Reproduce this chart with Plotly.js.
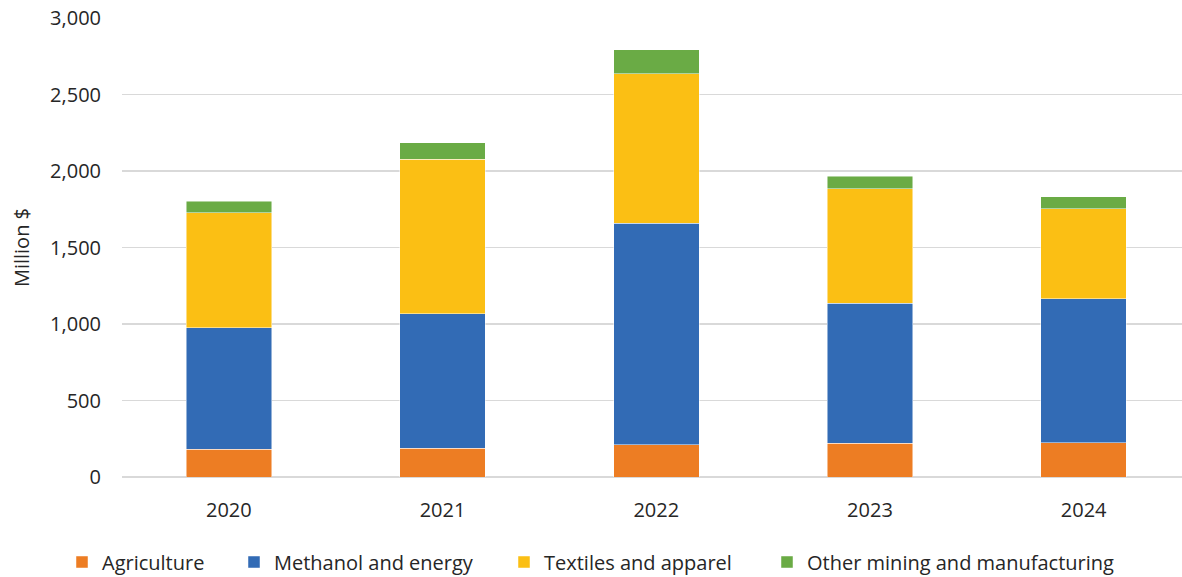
<!DOCTYPE html>
<html>
<head>
<meta charset="utf-8">
<script src="https://cdn.plot.ly/plotly-3.0.1.min.js"></script>
<style>html,body{margin:0;padding:0;background:#fff;}#chart{width:1182px;height:577px;}</style>
</head>
<body>
<div id="chart"></div>
<script>
const years = ["2020", "2021", "2022", "2023", "2024"];
const agriculture = [181, 187, 211, 220, 224];
const methanolEnergy = [794, 879, 1447, 916, 940];
const textilesApparel = [751, 1010, 977, 748, 590];
const otherMining = [76, 109, 159, 83, 78];
const yTicks = [0, 500, 1000, 1500, 2000, 2500, 3000];
const yTickLabels = ["0", "500", "1,000", "1,500", "2,000", "2,500", "3,000"];

const names = ["Agriculture", "Methanol and energy", "Textiles and apparel", "Other mining and manufacturing"];
const colors = ["#ED7D23", "#326BB5", "#FBBF14", "#6AAB45"];
const series = [agriculture, methanolEnergy, textilesApparel, otherMining];
const legendIds = ["legend", "legend2", "legend3", "legend4"];
const legendX = [62, 234, 504, 767];

const traces = series.map((vals, i) => ({
  type: "bar",
  name: names[i],
  x: years,
  y: vals,
  width: 0.4,
  legend: legendIds[i],
  marker: {color: colors[i], line: {color: "rgba(255,255,255,0.6)", width: 0.8}},
  hoverinfo: "x+y+name"
}));

const font = "'Open Sans', 'Noto Sans', sans-serif";
const fs = 20;
const layout = {
  width: 1182, height: 577,
  barmode: "stack",
  margin: {l: 122, r: 0, t: 18, b: 100, autoexpand: false},
  paper_bgcolor: "#fff", plot_bgcolor: "#fff",
  font: {family: font, size: fs, color: "#262626"},
  showlegend: true,
  xaxis: {
    type: "category",
    range: [-0.5, 4.46],
    showgrid: false, zeroline: false,
    showline: false, ticks: "",
    ticklabelstandoff: 19,
    tickfont: {size: fs, color: "#262626"}
  },
  yaxis: {
    range: [0, 3000],
    tickvals: yTicks, ticktext: yTickLabels,
    showgrid: true, gridcolor: "#D9D9D9", gridwidth: 1.5,
    zeroline: true, zerolinecolor: "#D9D9D9", zerolinewidth: 1.5,
    showline: false, ticks: "",
    ticklabelstandoff: 20,
    tickfont: {size: fs, color: "#262626"},
    title: {text: "Million $", font: {size: fs, color: "#262626"}, standoff: 15}
  }
};
legendIds.forEach((id, i) => {
  layout[id] = {
    orientation: "h", xref: "container", yref: "container",
    x: legendX[i] / 1182, xanchor: "left",
    y: 1 - 562 / 577, yanchor: "middle",
    font: {size: fs, color: "#262626"}, itemwidth: 30,
    bgcolor: "rgba(0,0,0,0)", borderwidth: 0
  };
});
Plotly.newPlot("chart", traces, layout, {displayModeBar: false, staticPlot: true});
</script>
</body>
</html>
